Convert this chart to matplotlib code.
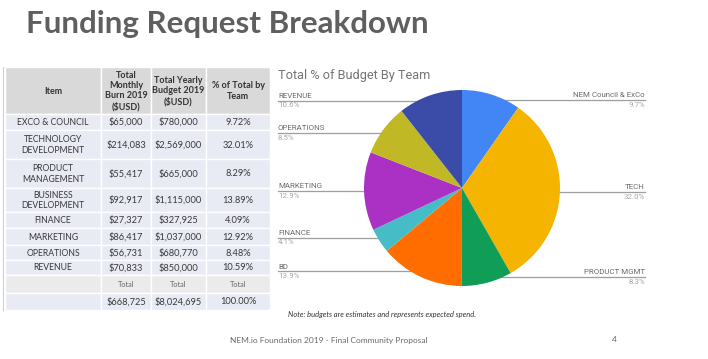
import matplotlib
matplotlib.use("Agg")
import matplotlib.pyplot as plt
from matplotlib.patches import Rectangle
import numpy as np

# ---------------- data ----------------
items = ["EXCO & COUNCIL", "TECHNOLOGY\nDEVELOPMENT", "PRODUCT\nMANAGEMENT",
         "BUSINESS\nDEVELOPMENT", "FINANCE", "MARKETING", "OPERATIONS", "REVENUE"]
monthly = ["$65,000", "$214,083", "$55,417", "$92,917", "$27,327", "$86,417", "$56,731", "$70,833"]
yearly = ["$780,000", "$2,569,000", "$665,000", "$1,115,000", "$327,925", "$1,037,000", "$680,770", "$850,000"]
pct_total = ["9.72%", "32.01%", "8.29%", "13.89%", "4.09%", "12.92%", "8.48%", "10.59%"]
headers = ["Item", "Total\nMonthly\nBurn 2019\n($USD)", "Total Yearly\nBudget 2019\n($USD)", "% of Total by\nTeam"]
total_labels = ["", "Total", "Total", "Total"]
totals = ["", "$668,725", "$8,024,695", "100.00%"]

pie_labels = ["NEM Council & ExCo", "TECH", "PRODUCT MGMT", "BD", "FINANCE",
              "MARKETING", "OPERATIONS", "REVENUE"]
pie_values = [780000, 2569000, 665000, 1115000, 327925, 1037000, 680770, 850000]
pie_colors = ["#4285f4", "#f4b400", "#0f9d58", "#ff6d00", "#46bdc6",
              "#ab30c4", "#c1b826", "#3a4ba8"]

# ---------------- figure ----------------
W, H = 708, 359
fig = plt.figure(figsize=(W / 100, H / 100), dpi=100)
fig.patch.set_facecolor("white")
ax = fig.add_axes([0, 0, 1, 1])
ax.set_xlim(0, W)
ax.set_ylim(H, 0)
ax.axis("off")

# title
ax.text(26, 24, "Funding Request Breakdown", fontsize=22.6, fontweight="bold",
        family="Lato", color="#5f5f5f", va="center", ha="left")

# ---------------- table ----------------
col_x = [5, 101, 151, 206, 270]
row_y = [67, 114, 130, 159, 188, 212, 228, 245, 260, 275, 293, 310]

def cell(r, c, fc, text, bold=False, size=5.6, color="#3a3a3a"):
    x0, x1 = col_x[c], col_x[c + 1]
    y0, y1 = row_y[r], row_y[r + 1]
    ax.add_patch(Rectangle((x0, y0), x1 - x0, y1 - y0, facecolor=fc,
                           edgecolor="white", linewidth=1.0))
    if text:
        ax.text((x0 + x1) / 2, (y0 + y1) / 2 + 0.5, text, ha="center", va="center",
                fontsize=size, family="Lato", color=color,
                fontweight="bold" if bold else "normal", linespacing=1.2)

for c, h in enumerate(headers):
    cell(0, c, "#d9d9d9", h, bold=True, size=6.5, color="#333333")

for i in range(len(items)):
    vals = [items[i], monthly[i], yearly[i], pct_total[i]]
    for c, v in enumerate(vals):
        cell(i + 1, c, "#e8eaf4", v, size=6.7 if c else 6.2)

for c, v in enumerate(total_labels):
    cell(9, c, "#ebebeb", v, size=5.3, color="#666666")
for c, v in enumerate(totals):
    cell(10, c, "#e8eaf4", v, size=6.7)

# faint left border
ax.plot([3, 3], [67, 310], color="#d0d0d0", lw=0.8)

# ---------------- pie ----------------
cx, cy, R = 462, 188, 98
pax = fig.add_axes([(cx - R) / W, (H - cy - R) / H, 2 * R / W, 2 * R / H])
pax.pie(pie_values, colors=pie_colors, startangle=90, counterclock=False,
        radius=1.0, wedgeprops=dict(linewidth=0))
pax.set_xlim(-1, 1)
pax.set_ylim(-1, 1)
pax.set_aspect("auto")
pax.axis("off")

ax.text(278, 75, "Total % of Budget By Team", fontsize=9.2, family="Roboto",
        color="#757575", va="center", ha="left")

vals = np.array(pie_values, dtype=float)
fr = vals / vals.sum()
cum = np.cumsum(fr) - fr / 2
for lab, f, m in zip(pie_labels, fr, cum):
    ang = 2 * np.pi * m
    dx = np.sin(ang) * 0.94 * R
    dy = -np.cos(ang) * 0.94 * R
    px, py = cx + dx, cy + dy
    pct = f"{f * 100:.1f}%"
    if dx >= 0:
        lx = 645
        ax.plot([px, lx], [py, py], color="#9e9e9e", lw=0.9)
        ha = "right"
    else:
        lx = 278
        ax.plot([lx, px], [py, py], color="#9e9e9e", lw=0.9)
        ha = "left"
    ax.plot(px, py, "o", ms=1.6, color="#bdbdbd", mec="none")
    ax.text(lx, py - 1.8, lab, ha=ha, va="bottom", fontsize=5.7,
            family="Roboto", color="#6b6b6b")
    ax.text(lx, py + 1.5, pct, ha=ha, va="top", fontsize=5.7,
            family="Roboto", color="#a8a8a8")

# ---------------- footer ----------------
ax.text(288, 314, "Note: budgets are estimates and represents expected spend.",
        fontsize=5.4, style="italic", family="Lato", color="#333333",
        va="center", ha="left")
ax.text(230, 340, "NEM.io Foundation 2019 - Final Community Proposal",
        fontsize=6.0, family="Lato", color="#6a6a6a", va="center", ha="left")
ax.text(612, 340, "4", fontsize=6.0, family="Lato", color="#6a6a6a",
        va="center", ha="left")

fig.savefig("out.png", dpi=100, facecolor="white")
